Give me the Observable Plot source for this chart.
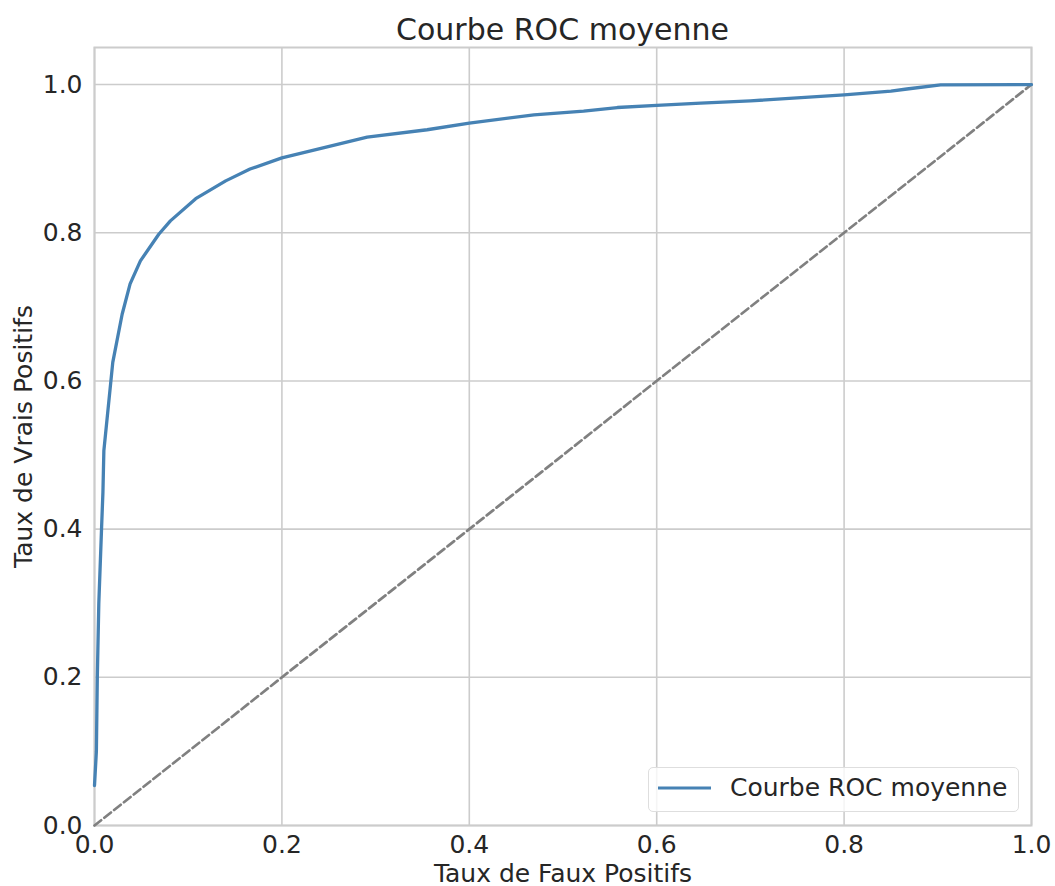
<!DOCTYPE html>
<html>
<head>
<meta charset="utf-8">
<script src="https://cdn.jsdelivr.net/npm/d3@7"></script>
<script src="https://cdn.jsdelivr.net/npm/@observablehq/plot@0.6"></script>
<style>
  html, body { margin: 0; padding: 0; background: white; }
  #wrap { position: relative; width: 1055px; height: 886px; font-family: "DejaVu Sans", sans-serif; color: #262626; }
  #title { height: 40px; box-sizing: border-box; padding-left: 94px; padding-right: 24px; text-align: center; font-size: 30px; line-height: 30px; padding-top: 15px; white-space: nowrap; }
  #chart svg { display: block; }
  #legend { position: absolute; left: 648px; top: 767px; width: 371px; height: 45px; box-sizing: border-box; border: 1.5px solid #dedede; border-radius: 5px; background: rgba(255,255,255,0.8); }
  #legend svg { position: absolute; left: 8px; top: 12px; }
  #legend span { position: absolute; left: 81px; top: 5px; font-size: 25px; line-height: 30px; white-space: nowrap; }
</style>
</head>
<body>
<div id="wrap">
  <div id="title">Courbe ROC moyenne</div>
  <div id="chart"></div>
  <div id="legend"><svg width="56" height="16"><line x1="1" y1="8" x2="54" y2="8" stroke="#4682b4" stroke-width="3.2"/></svg><span>Courbe ROC moyenne</span></div>
</div>
<script>
// Mean ROC curve
const fpr = [0, 0.002, 0.003, 0.0046, 0.0075, 0.009, 0.01, 0.0195, 0.0295, 0.038, 0.049, 0.0686, 0.081, 0.108, 0.14, 0.166, 0.2, 0.245, 0.291, 0.355, 0.4, 0.469, 0.522, 0.558, 0.6, 0.647, 0.7, 0.8, 0.85, 0.867, 0.903, 1.0];
const tpr = [0.054, 0.1, 0.2, 0.3, 0.4, 0.45, 0.506, 0.625, 0.69, 0.731, 0.762, 0.798, 0.816, 0.846, 0.870, 0.886, 0.901, 0.915, 0.929, 0.939, 0.948, 0.959, 0.964, 0.969, 0.972, 0.975, 0.978, 0.986, 0.991, 0.994, 0.9996, 1.0];
// Chance diagonal
const diagX = [0, 1];
const diagY = [0, 1];
// Ticks
const xTicks = [0, 0.2, 0.4, 0.6, 0.8, 1.0];
const yTicks = [0, 0.2, 0.4, 0.6, 0.8, 1.0];
const seriesLabel = "Courbe ROC moyenne";
const xLabel = "Taux de Faux Positifs";
const yLabel = "Taux de Vrais Positifs";

const roc = fpr.map((x, i) => ({x, y: tpr[i]}));
const diag = diagX.map((x, i) => ({x, y: diagY[i]}));
const fmt = d3.format(".1f");

const chart = Plot.plot({
  width: 1055,
  height: 846,
  marginTop: 7,
  marginBottom: 61,
  marginLeft: 94,
  marginRight: 24,
  style: {fontFamily: "DejaVu Sans, sans-serif", fontSize: "25px", color: "#262626", background: "white", overflow: "visible"},
  x: {domain: [0, 1]},
  y: {domain: [0, 1.05]},
  marks: [
    Plot.gridX(xTicks, {stroke: "#cccccc", strokeOpacity: 1, strokeWidth: 1.6}),
    Plot.gridY(yTicks, {stroke: "#cccccc", strokeOpacity: 1, strokeWidth: 1.6}),
    Plot.frame({stroke: "#cccccc", strokeWidth: 2}),
    Plot.line(diag, {x: "x", y: "y", stroke: "#808080", strokeWidth: 2.7, strokeDasharray: "8.5,4"}),
    Plot.line(roc, {x: "x", y: "y", stroke: "#4682b4", strokeWidth: 3.3}),
    Plot.axisX(xTicks, {tickSize: 0, tickPadding: 10, tickFormat: fmt, fontSize: 25, fill: "#262626",
      label: xLabel, labelAnchor: "center", labelArrow: "none", labelOffset: 56}),
    Plot.axisY(yTicks, {tickSize: 0, tickPadding: 12, tickFormat: fmt, fontSize: 25, fill: "#262626",
      label: yLabel, labelAnchor: "center", labelArrow: "none", labelOffset: 80})
  ]
});
document.getElementById("chart").append(chart);
</script>
</body>
</html>
